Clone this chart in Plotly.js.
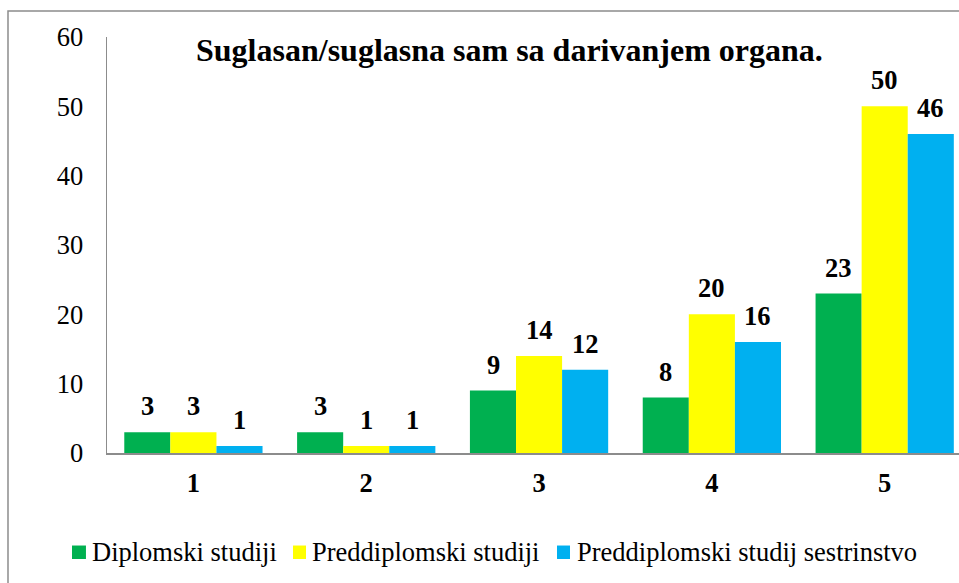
<!DOCTYPE html>
<html>
<head>
<meta charset="utf-8">
<script src="https://cdn.plot.ly/plotly-3.0.1.min.js"></script>
<style>
  html, body { margin: 0; padding: 0; background: #ffffff; overflow: hidden; }
  #chart { width: 959px; height: 583px; }
</style>
</head>
<body>
<div id="chart"></div>
<script>
var categories = ["1", "2", "3", "4", "5"];
var seriesNames = ["Diplomski studiji", "Preddiplomski studiji", "Preddiplomski studij sestrinstvo"];
var diplomski = [3, 3, 9, 8, 23];
var preddiplomski = [3, 1, 14, 20, 50];
var sestrinstvo = [1, 1, 12, 16, 46];
var yTicks = [0, 10, 20, 30, 40, 50, 60];
var titleText = "Suglasan/suglasna sam sa darivanjem organa.";

var colors = ["#00B050", "#FFFF00", "#00B0F0"];
var values = [diplomski, preddiplomski, sestrinstvo];
var serifFamily = "Liberation Serif";
var fs = 26.5;

var traces = values.map(function (v, i) {
  return {
    type: "bar",
    name: seriesNames[i],
    x: categories,
    y: v,
    showlegend: false,
    marker: { color: colors[i], line: { width: 0 } },
    hoverinfo: "none"
  };
});

// data labels above each bar, offset by series within the group
var barPx = 46;
var annotations = [];
values.forEach(function (v, i) {
  v.forEach(function (val, j) {
    annotations.push({
      x: j, y: val,
      xref: "x", yref: "y",
      text: "<b>" + val + "</b>",
      showarrow: false,
      xanchor: "center", yanchor: "bottom",
      xshift: (i - 1) * barPx,
      yshift: 9,
      font: { family: serifFamily, size: fs, color: "#000000" }
    });
  });
});

// chart title
annotations.push({
  text: "<b>" + titleText + "</b>",
  xref: "paper", yref: "paper",
  x: 0.472, y: 0.969,
  xanchor: "center", yanchor: "middle",
  showarrow: false,
  font: { family: serifFamily, size: 32, color: "#000000" }
});

// legend (drawn as swatches + text to match the original's compact spacing)
var legendTextX = [-0.0200, 0.2383, 0.5493];
var legendBoxX = [[-0.0411, -0.0247], [0.2183, 0.2336], [0.5282, 0.5434]];
var legendY = -0.238;
var shapes = [];
seriesNames.forEach(function (name, i) {
  annotations.push({
    text: name,
    xref: "paper", yref: "paper",
    x: legendTextX[i], y: legendY,
    xanchor: "left", yanchor: "middle",
    showarrow: false,
    font: { family: serifFamily, size: fs, color: "#000000" }
  });
  shapes.push({
    type: "rect",
    xref: "paper", yref: "paper",
    x0: legendBoxX[i][0], x1: legendBoxX[i][1],
    y0: -0.2548, y1: -0.2224,
    line: { width: 0 },
    fillcolor: colors[i]
  });
});

// outer chart border
shapes.push({
  type: "rect",
  xref: "paper", yref: "paper",
  x0: -0.1162, x1: 1.2,
  y0: -0.5, y1: 1.0625,
  line: { color: "#8c8c8c", width: 1.5 },
  fillcolor: "rgba(0,0,0,0)",
  layer: "below"
});

var layout = {
  width: 959,
  height: 583,
  margin: { l: 107, r: 0, t: 37, b: 130 },
  paper_bgcolor: "#ffffff",
  plot_bgcolor: "#ffffff",
  font: { family: serifFamily, size: 20, color: "#000000" },
  barmode: "group",
  bargap: 0.2,
  bargroupgap: 0,
  showlegend: false,
  xaxis: {
    type: "category",
    range: [-0.5, 4.43],
    showline: true,
    linecolor: "#8c8c8c",
    linewidth: 1.5,
    showgrid: false,
    zeroline: false,
    ticks: "",
    ticklabelstandoff: 6,
    tickfont: { family: serifFamily, size: fs, color: "#000000", weight: "bold" },
    fixedrange: true
  },
  yaxis: {
    range: [0, 60],
    tickvals: yTicks,
    ticktext: yTicks.map(String),
    showline: true,
    linecolor: "#8c8c8c",
    linewidth: 1.5,
    showgrid: false,
    zeroline: false,
    ticks: "",
    ticklabelstandoff: 17,
    tickfont: { family: serifFamily, size: fs, color: "#000000" },
    fixedrange: true
  },
  annotations: annotations,
  shapes: shapes
};

Plotly.newPlot("chart", traces, layout, { displayModeBar: false, staticPlot: true });
</script>
</body>
</html>
